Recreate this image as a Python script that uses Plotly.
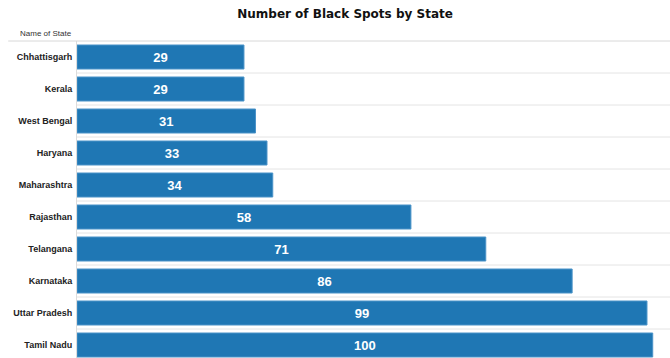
import plotly.graph_objects as go

states = ["Chhattisgarh", "Kerala", "West Bengal", "Haryana", "Maharashtra",
          "Rajasthan", "Telangana", "Karnataka", "Uttar Pradesh", "Tamil Nadu"]
black_spots = [29, 29, 31, 33, 34, 58, 71, 86, 99, 100]

fig = go.Figure()
fig.add_trace(go.Bar(
    x=black_spots, y=states, orientation="h",
    marker=dict(color="#1F77B4", line=dict(color="#4a93c8", width=1)),
    text=[str(v) for v in black_spots],
    textposition="inside", insidetextanchor="middle",
    textfont=dict(color="white", size=13, family="Liberation Sans, Arial", weight="bold"),
    hoverinfo="skip",
))

shapes = []
# row dividers
for i in range(len(states) - 1):
    shapes.append(dict(type="line", xref="paper", x0=0, x1=1, yref="y",
                       y0=i + 0.5, y1=i + 0.5, line=dict(color="#e4e4e4", width=1)))
# header line
shapes.append(dict(type="line", xref="paper", x0=-0.116, x1=1, yref="paper",
                   y0=1, y1=1, line=dict(color="#d8d8d8", width=1)))

fig.update_layout(
    width=670, height=358,
    margin=dict(l=77, r=0, t=41, b=0),
    paper_bgcolor="white", plot_bgcolor="white",
    bargap=0.25,
    showlegend=False,
    title=dict(text="Number of Black Spots by State", x=0.515, xanchor="center",
               y=0.962, yanchor="middle",
               font=dict(family="DejaVu Sans", size=12, color="#111", weight="bold")),
    xaxis=dict(range=[0, 103], showgrid=False, showticklabels=False, zeroline=False,
               showline=False),
    yaxis=dict(categoryorder="array", categoryarray=states, range=[9.406, -0.5],
               showgrid=False, showline=True, linecolor="#dcdcdc", linewidth=1,
               ticks="", ticklabelstandoff=2,
               tickfont=dict(family="Arial", size=9, color="#222", weight="bold")),
    shapes=shapes,
    annotations=[dict(text="Name of State", xref="paper", yref="paper",
                      x=-0.1, y=1.0, xanchor="left", yanchor="bottom", yshift=1,
                      showarrow=False, font=dict(family="Arial", size=8, color="#333"))],
)

fig.write_html("out.html")
